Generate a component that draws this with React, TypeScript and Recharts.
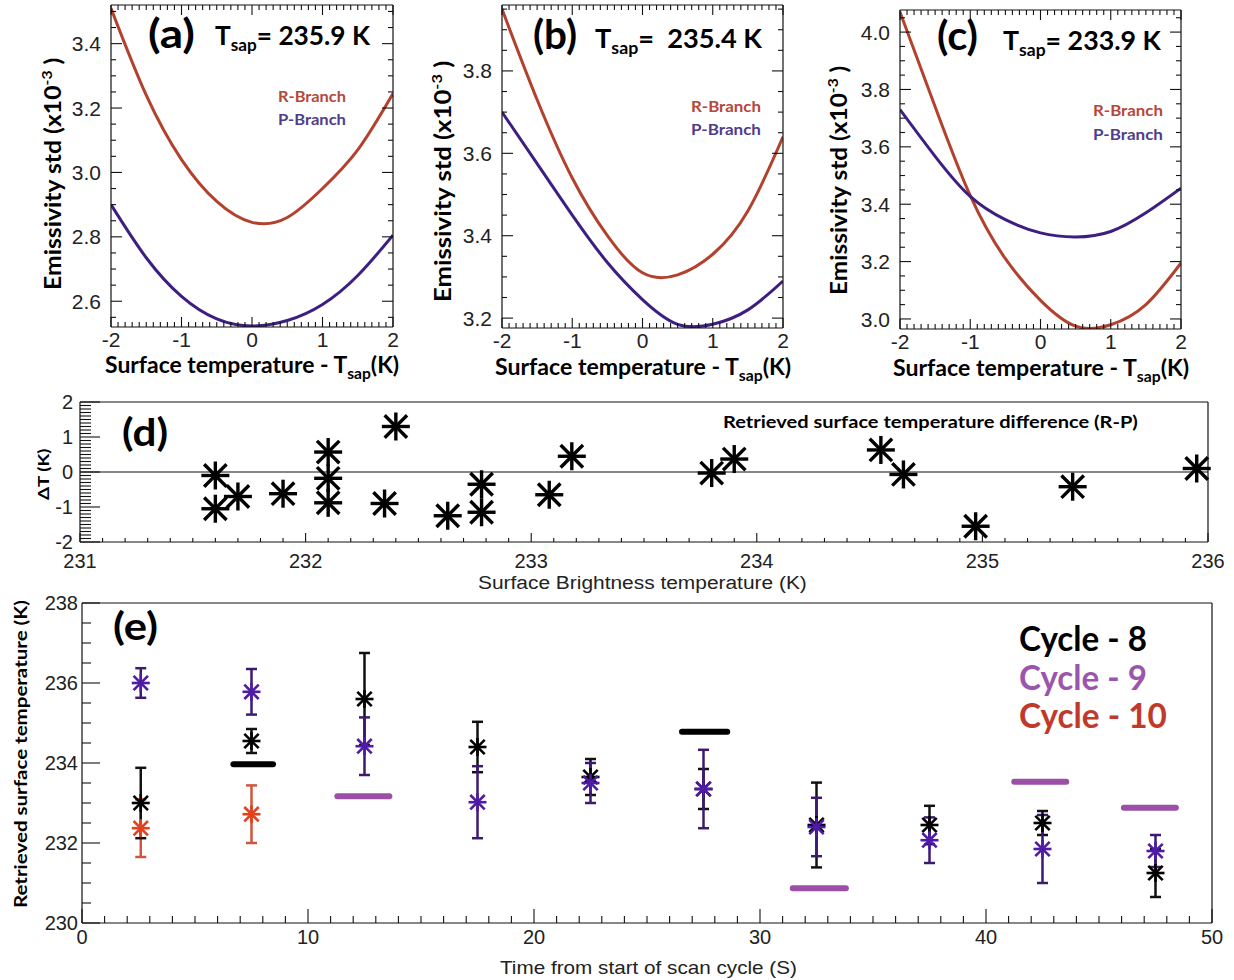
import React from "react";
import {
  ComposedChart,
  Line,
  Scatter,
  XAxis,
  YAxis,
  ErrorBar,
  ReferenceLine,
} from "recharts";

const TICK_FONT = "'Liberation Sans', Arial, sans-serif";
const NARROW_FONT = "'Liberation Sans Narrow', 'Liberation Sans', Arial, sans-serif";
const BOLD_FONT = "Lato, 'Open Sans', sans-serif";

// ---- panels (a)-(c): emissivity std vs (surface temperature - Tsap)
const offsets = [-2, -1.5, -1, -0.5, 0, 0.5, 1, 1.5, 2];
const rBranchA = [3.51, 3.24, 3.04, 2.91, 2.845, 2.86, 2.95, 3.07, 3.245];
const pBranchA = [2.9, 2.735, 2.615, 2.545, 2.523, 2.54, 2.59, 2.68, 2.805];
const rBranchB = [3.95, 3.73, 3.54, 3.4, 3.31, 3.305, 3.355, 3.46, 3.64];
const pBranchB = [3.7, 3.575, 3.45, 3.335, 3.245, 3.185, 3.185, 3.22, 3.29];
const rBranchC = [4.07, 3.74, 3.43, 3.21, 3.065, 2.975, 2.98, 3.05, 3.195];
const pBranchC = [3.73, 3.567, 3.427, 3.346, 3.3, 3.286, 3.305, 3.37, 3.456];

// ---- panel (d): retrieved surface temperature difference (R-P)
const brightnessT = [
  231.6, 231.6, 231.7, 231.9, 232.1, 232.1, 232.1, 232.35, 232.4, 232.63, 232.78,
  232.78, 233.08, 233.18, 233.8, 233.9, 234.55, 234.65, 234.97, 235.4, 235.95,
];
const deltaT = [
  -0.1, -1.05, -0.7, -0.62, 0.57, -0.18, -0.88, -0.9, 1.3, -1.25, -0.35, -1.15,
  -0.65, 0.45, -0.03, 0.37, 0.63, -0.07, -1.55, -0.42, 0.1,
];

// ---- panel (e): retrieved surface temperature per scan position
const scanTime = [2.6, 7.5, 12.5, 17.5, 22.5, 27.5, 32.5, 37.5, 42.5, 47.5];
const cycle8Temp = [233.0, 234.55, 235.6, 234.4, 233.65, 233.35, 232.45, 232.45, 232.5, 231.25];
const cycle8Err = [0.88, 0.3, 1.15, 0.63, 0.45, 0.5, 1.06, 0.48, 0.3, 0.6];
const cycle9Temp = [236.0, 235.78, 234.42, 233.02, 233.5, 233.35, 232.4, 232.07, 231.85, 231.8];
const cycle9Err = [0.37, 0.57, 0.72, 0.9, 0.5, 0.98, 0.73, 0.57, 0.85, 0.4];
const cycle10Time = [2.6, 7.5];
const cycle10Temp = [232.37, 232.72];
const cycle10Err = [0.72, 0.72];

// horizontal reference marks (Tsap of each cycle)
const markStart = [6.7, 11.3, 26.55, 31.45, 41.25, 46.1];
const markEnd = [8.45, 13.6, 28.55, 33.8, 43.55, 48.4];
const markTemp = [233.97, 233.17, 234.78, 230.87, 233.53, 232.88];
const markColor = ["#000000", "#9b4fa6", "#000000", "#9b4fa6", "#9b4fa6", "#9b4fa6"];

// ---------- helpers
function range(a: number, b: number, step: number) {
  const out: number[] = [];
  const i0 = Math.ceil(a / step - 1e-6);
  const i1 = Math.floor(b / step + 1e-6);
  for (let i = i0; i <= i1; i++) out.push(+(i * step).toFixed(4));
  return out;
}
const isMajor = (v: number, step: number) =>
  Math.abs(v / step - Math.round(v / step)) < 1e-6;

type TickOpts = {
  side: "left" | "right" | "top" | "bottom";
  margin: number;
  major: number;
  majorLen: number;
  minorLen: number;
  label?: boolean;
  fmt?: (v: number) => string;
  fontSize?: number;
  family?: string;
};

function makeTick(o: TickOpts) {
  return (props: any) => {
    const { x, y, payload } = props;
    const v = payload.value;
    const maj = isMajor(v, o.major);
    const len = maj ? o.majorLen : o.minorLen;
    let l = { x1: 0, y1: 0, x2: 0, y2: 0 };
    let t: any = null;
    if (o.side === "left") {
      l = { x1: x + o.margin, y1: y, x2: x + o.margin + len, y2: y };
      t = { x, y, dy: "0.36em", textAnchor: "end" };
    } else if (o.side === "right") {
      l = { x1: x - o.margin, y1: y, x2: x - o.margin - len, y2: y };
    } else if (o.side === "bottom") {
      l = { x1: x, y1: y - o.margin, x2: x, y2: y - o.margin - len };
      t = { x, y, dy: "0.72em", textAnchor: "middle" };
    } else {
      l = { x1: x, y1: y + o.margin, x2: x, y2: y + o.margin + len };
    }
    return (
      <g>
        <line {...l} stroke="#111" strokeWidth={1.1} />
        {o.label && maj && t && (
          <text
            {...t}
            fill="#222"
            fontSize={o.fontSize ?? 18}
            fontFamily={o.family ?? TICK_FONT}
          >
            {o.fmt ? o.fmt(v) : String(v)}
          </text>
        )}
      </g>
    );
  };
}

function Star({ cx, cy, r, color, w }: any) {
  if (cx == null || cy == null) return null;
  const d = r * 0.8;
  return (
    <g stroke={color} strokeWidth={w} fill="none">
      <line x1={cx - r} y1={cy} x2={cx + r} y2={cy} />
      <line x1={cx} y1={cy - r} x2={cx} y2={cy + r} />
      <line x1={cx - d} y1={cy - d} x2={cx + d} y2={cy + d} />
      <line x1={cx - d} y1={cy + d} x2={cx + d} y2={cy - d} />
    </g>
  );
}

let measureCtx: CanvasRenderingContext2D | null = null;
function measure(text: string, size: number, family: string, weight: string) {
  if (!measureCtx) measureCtx = document.createElement("canvas").getContext("2d");
  if (!measureCtx) return text.length * size * 0.5;
  measureCtx.font = `${weight} ${size}px ${family}`;
  return measureCtx.measureText(text).width;
}

type Part = { text: string; size?: number; shift?: number };

// text stretched/squeezed to the width it has in the figure
function FitText({
  x,
  y,
  width,
  size,
  parts,
  fill = "#000",
  weight = "bold",
  family = BOLD_FONT,
  rotate = 0,
}: {
  x: number;
  y: number;
  width?: number;
  size: number;
  parts: Part[];
  fill?: string;
  weight?: string;
  family?: string;
  rotate?: number;
}) {
  const natural = parts.reduce(
    (s, p) => s + measure(p.text, p.size ?? size, family, weight),
    0
  );
  const sx = width ? width / natural : 1;
  let prev = 0;
  return (
    <g transform={`translate(${x} ${y}) rotate(${rotate}) scale(${sx} 1)`}>
      <text
        x={0}
        y={0}
        fontFamily={family}
        fontWeight={weight}
        fontSize={size}
        fill={fill}
        style={{ whiteSpace: "pre" }}
      >
        {parts.map((p, i) => {
          const s = p.shift ?? 0;
          const dy = s - prev;
          prev = s;
          return (
            <tspan key={i} dy={dy} fontSize={p.size ?? size}>
              {p.text}
            </tspan>
          );
        })}
      </text>
    </g>
  );
}

type Box = { x: number; y: number; w: number; h: number };
type Plot = { l: number; t: number; r: number; b: number };

const axisLine = { stroke: "#111", strokeWidth: 1.2 };

function CurvePanel({
  box,
  plot,
  yDomain,
  rVals,
  pVals,
}: {
  box: Box;
  plot: Plot;
  yDomain: [number, number];
  rVals: number[];
  pVals: number[];
}) {
  const data = offsets.map((x, i) => ({ x, r: rVals[i], p: pVals[i] }));
  const xTicks = range(-2, 2, 0.1);
  const yTicks = range(yDomain[0], yDomain[1], 0.05);
  const common = {
    type: "number" as const,
    allowDataOverflow: true,
    interval: 0 as const,
    tickSize: 0,
    tickLine: false,
    axisLine,
  };
  return (
    <div style={{ position: "absolute", left: box.x, top: box.y }}>
      <ComposedChart
        width={box.w}
        height={box.h}
        data={data}
        margin={{ top: 0, right: 0, bottom: 0, left: 0 }}
      >
        <XAxis
          {...common}
          xAxisId="b"
          dataKey="x"
          domain={[-2, 2]}
          ticks={xTicks}
          orientation="bottom"
          height={box.y + box.h - plot.b}
          tickMargin={5}
          tick={makeTick({
            side: "bottom",
            margin: 5,
            major: 1,
            majorLen: 10,
            minorLen: 5,
            label: true,
            family: NARROW_FONT,
            fontSize: 21,
          })}
        />
        <XAxis
          {...common}
          xAxisId="t"
          dataKey="x"
          domain={[-2, 2]}
          ticks={xTicks}
          orientation="top"
          height={plot.t - box.y}
          tickMargin={2}
          tick={makeTick({ side: "top", margin: 2, major: 1, majorLen: 10, minorLen: 5 })}
        />
        <YAxis
          {...common}
          yAxisId="l"
          domain={yDomain}
          ticks={yTicks}
          width={plot.l - box.x}
          tickMargin={10}
          tick={makeTick({
            side: "left",
            margin: 10,
            major: 0.2,
            majorLen: 11,
            minorLen: 5,
            label: true,
            fmt: (v) => v.toFixed(1),
            family: NARROW_FONT,
            fontSize: 21,
          })}
        />
        <YAxis
          {...common}
          yAxisId="r"
          orientation="right"
          domain={yDomain}
          ticks={yTicks}
          width={box.x + box.w - plot.r}
          tickMargin={2}
          tick={makeTick({ side: "right", margin: 2, major: 0.2, majorLen: 11, minorLen: 5 })}
        />
        <Line
          xAxisId="b"
          yAxisId="l"
          type="natural"
          dataKey="r"
          stroke="#b2412e"
          strokeWidth={3}
          dot={false}
          isAnimationActive={false}
        />
        <Line
          xAxisId="b"
          yAxisId="l"
          type="natural"
          dataKey="p"
          stroke="#3d1f82"
          strokeWidth={3}
          dot={false}
          isAnimationActive={false}
        />
      </ComposedChart>
    </div>
  );
}

function DiffPanel() {
  const box = { x: 0, y: 390, w: 1234, h: 200 };
  const plot = { l: 80, t: 402, r: 1208, b: 542 };
  const data = brightnessT.map((x, i) => ({ x, y: deltaT[i] }));
  const xTicks = range(231, 236, 0.1);
  const yTicks = range(-2, 2, 0.1);
  const common = {
    type: "number" as const,
    interval: 0 as const,
    tickSize: 0,
    tickLine: false,
    axisLine,
  };
  return (
    <div style={{ position: "absolute", left: box.x, top: box.y }}>
      <ComposedChart
        width={box.w}
        height={box.h}
        margin={{ top: 0, right: 0, bottom: 0, left: 0 }}
      >
        <XAxis
          {...common}
          xAxisId="b"
          dataKey="x"
          domain={[231, 236]}
          ticks={xTicks}
          height={box.y + box.h - plot.b}
          tickMargin={12}
          tick={makeTick({
            side: "bottom",
            margin: 12,
            major: 1,
            majorLen: 9,
            minorLen: 4,
            label: true,
            fontSize: 20,
          })}
        />
        <XAxis
          {...common}
          xAxisId="t"
          dataKey="x"
          orientation="top"
          domain={[231, 236]}
          ticks={xTicks}
          height={plot.t - box.y}
          tickMargin={2}
          tick={makeTick({ side: "top", margin: 2, major: 1, majorLen: 9, minorLen: 4 })}
        />
        <YAxis
          {...common}
          yAxisId="l"
          domain={[-2, 2]}
          ticks={yTicks}
          width={plot.l - box.x}
          tickMargin={7}
          tick={makeTick({
            side: "left",
            margin: 7,
            major: 1,
            majorLen: 20,
            minorLen: 11,
            label: true,
            fontSize: 20,
          })}
        />
        <YAxis
          {...common}
          yAxisId="r"
          orientation="right"
          domain={[-2, 2]}
          ticks={yTicks}
          width={box.x + box.w - plot.r}
          tickMargin={2}
          tick={makeTick({ side: "right", margin: 2, major: 1, majorLen: 14, minorLen: 9 })}
        />
        <ReferenceLine xAxisId="b" yAxisId="l" y={0} stroke="#111" strokeWidth={1.2} />
        <Scatter
          xAxisId="b"
          yAxisId="l"
          data={data}
          dataKey="y"
          isAnimationActive={false}
          shape={(p: any) => <Star cx={p.cx} cy={p.cy} r={14} color="#000" w={3.4} />}
        />
      </ComposedChart>
    </div>
  );
}

function CyclePanel() {
  const box = { x: 0, y: 590, w: 1234, h: 390 };
  const plot = { l: 82, t: 603, r: 1212, b: 923 };
  const c8 = scanTime.map((t, i) => ({ t, temp: cycle8Temp[i], err: cycle8Err[i] }));
  const c9 = scanTime.map((t, i) => ({ t, temp: cycle9Temp[i], err: cycle9Err[i] }));
  const c10 = cycle10Time.map((t, i) => ({ t, temp: cycle10Temp[i], err: cycle10Err[i] }));
  const xTicks = range(0, 50, 1);
  const yTicks = range(230, 238, 0.5);
  const common = {
    type: "number" as const,
    interval: 0 as const,
    tickSize: 0,
    tickLine: false,
    axisLine,
  };
  return (
    <div style={{ position: "absolute", left: box.x, top: box.y }}>
      <ComposedChart
        width={box.w}
        height={box.h}
        margin={{ top: 0, right: 0, bottom: 0, left: 0 }}
      >
        <XAxis
          {...common}
          xAxisId="b"
          dataKey="t"
          domain={[0, 50]}
          ticks={xTicks}
          height={box.y + box.h - plot.b}
          tickMargin={7}
          tick={makeTick({
            side: "bottom",
            margin: 7,
            major: 10,
            majorLen: 14,
            minorLen: 7,
            label: true,
            fontSize: 20,
          })}
        />
        <XAxis
          {...common}
          xAxisId="t"
          dataKey="t"
          orientation="top"
          domain={[0, 50]}
          ticks={xTicks}
          height={plot.t - box.y}
          tickMargin={2}
          tick={makeTick({ side: "top", margin: 2, major: 10, majorLen: 14, minorLen: 7 })}
        />
        <YAxis
          {...common}
          yAxisId="l"
          domain={[230, 238]}
          ticks={yTicks}
          width={plot.l - box.x}
          tickMargin={4}
          tick={makeTick({
            side: "left",
            margin: 4,
            major: 2,
            majorLen: 18,
            minorLen: 9,
            label: true,
            fontSize: 20,
          })}
        />
        <YAxis
          {...common}
          yAxisId="r"
          orientation="right"
          domain={[230, 238]}
          ticks={yTicks}
          width={box.x + box.w - plot.r}
          tickMargin={2}
          tick={makeTick({ side: "right", margin: 2, major: 2, majorLen: 22, minorLen: 11 })}
        />
        {markTemp.map((y, i) => (
          <ReferenceLine
            key={i}
            xAxisId="b"
            yAxisId="l"
            segment={[
              { x: markStart[i], y },
              { x: markEnd[i], y },
            ]}
            stroke={markColor[i]}
            strokeWidth={6}
            strokeLinecap="round"
          />
        ))}
        <Scatter
          xAxisId="b"
          yAxisId="l"
          data={c10}
          dataKey="temp"
          isAnimationActive={false}
          shape={(p: any) => <Star cx={p.cx} cy={p.cy} r={9} color="#e2421e" w={2.6} />}
        >
          <ErrorBar dataKey="err" direction="y" width={5.5} stroke="#d0553f" strokeWidth={2.5} />
        </Scatter>
        <Scatter
          xAxisId="b"
          yAxisId="l"
          data={c8}
          dataKey="temp"
          isAnimationActive={false}
          shape={(p: any) => <Star cx={p.cx} cy={p.cy} r={9} color="#000" w={2.6} />}
        >
          <ErrorBar dataKey="err" direction="y" width={5.5} stroke="#111" strokeWidth={2.5} />
        </Scatter>
        <Scatter
          xAxisId="b"
          yAxisId="l"
          data={c9}
          dataKey="temp"
          isAnimationActive={false}
          shape={(p: any) => <Star cx={p.cx} cy={p.cy} r={9} color="#4f1ca6" w={2.6} />}
        >
          <ErrorBar dataKey="err" direction="y" width={5.5} stroke="#3d1a72" strokeWidth={2.5} />
        </Scatter>
      </ComposedChart>
    </div>
  );
}

const tsap = (v: string): Part[] => [
  { text: "T", size: 26 },
  { text: "sap", size: 17, shift: 6 },
  { text: v, size: 26, shift: 0 },
];
const xTitle: Part[] = [
  { text: "Surface temperature - T", size: 22 },
  { text: "sap", size: 15, shift: 6 },
  { text: "(K)", size: 22, shift: 0 },
];
const yTitle: Part[] = [
  { text: "Emissivity std (x10", size: 22 },
  { text: "-3", size: 14, shift: -9 },
  { text: " )", size: 22, shift: 0 },
];

function Annotations() {
  return (
    <svg
      width={1234}
      height={980}
      style={{ position: "absolute", left: 0, top: 0, pointerEvents: "none" }}
    >
      {/* (a) */}
      <FitText x={148} y={48} size={40} width={47} parts={[{ text: "(a)" }]} />
      <FitText x={215} y={45} size={26} width={155} parts={tsap("= 235.9 K")} />
      <FitText x={278} y={102} size={16} width={68} fill="#b5473a" parts={[{ text: "R-Branch" }]} />
      <FitText x={278} y={125} size={16} width={68} fill="#4f3d8c" parts={[{ text: "P-Branch" }]} />
      <FitText x={105} y={373} size={22} width={295} parts={xTitle} />
      <FitText x={61} y={290} size={22} width={233} rotate={-90} parts={yTitle} />

      {/* (b) */}
      <FitText x={533} y={49} size={40} width={44} parts={[{ text: "(b)" }]} />
      <FitText x={595} y={48} size={26} width={167} parts={tsap("=  235.4 K")} />
      <FitText x={691} y={112} size={16} width={70} fill="#b5473a" parts={[{ text: "R-Branch" }]} />
      <FitText x={691} y={135} size={16} width={70} fill="#4f3d8c" parts={[{ text: "P-Branch" }]} />
      <FitText x={495} y={375} size={22} width={297} parts={xTitle} />
      <FitText x={451} y={302} size={22} width={242} rotate={-90} parts={yTitle} />

      {/* (c) */}
      <FitText x={937} y={50} size={40} width={41} parts={[{ text: "(c)" }]} />
      <FitText x={1003} y={50} size={26} width={158} parts={tsap("= 233.9 K")} />
      <FitText x={1093} y={116} size={16} width={70} fill="#b5473a" parts={[{ text: "R-Branch" }]} />
      <FitText x={1093} y={140} size={16} width={70} fill="#4f3d8c" parts={[{ text: "P-Branch" }]} />
      <FitText x={893} y={376} size={22} width={297} parts={xTitle} />
      <FitText x={847} y={295} size={22} width={230} rotate={-90} parts={yTitle} />

      {/* (d) */}
      <FitText x={122} y={446} size={38} width={46} parts={[{ text: "(d)" }]} />
      <FitText
        x={723}
        y={428}
        size={17}
        width={415}
        parts={[{ text: "Retrieved surface temperature difference (R-P)" }]}
      />
      <FitText x={49} y={500} size={16} width={52} rotate={-90} parts={[{ text: "ΔT (K)" }]} />
      <FitText
        x={478}
        y={589}
        size={18}
        width={329}
        weight="normal"
        family={TICK_FONT}
        fill="#222"
        parts={[{ text: "Surface Brightness temperature (K)" }]}
      />

      {/* (e) */}
      <FitText x={113} y={640} size={38} width={45} parts={[{ text: "(e)" }]} />
      <FitText x={1019} y={651} size={35} width={128} parts={[{ text: "Cycle - 8" }]} />
      <FitText x={1019} y={690} size={35} width={128} fill="#9b55ad" parts={[{ text: "Cycle - 9" }]} />
      <FitText x={1019} y={728} size={35} width={148} fill="#c0392b" parts={[{ text: "Cycle - 10" }]} />
      <FitText
        x={27}
        y={908}
        size={17}
        width={308}
        rotate={-90}
        parts={[{ text: "Retrieved surface temperature (K)" }]}
      />
      <FitText
        x={500}
        y={974}
        size={19}
        width={297}
        weight="normal"
        family={TICK_FONT}
        fill="#222"
        parts={[{ text: "Time from start of scan cycle (S)" }]}
      />
    </svg>
  );
}

export default function App() {
  return (
    <div
      style={{
        position: "absolute",
        left: 0,
        top: 0,
        width: 1234,
        height: 980,
        background: "#fff",
        overflow: "hidden",
      }}
    >
      <CurvePanel
        box={{ x: 0, y: 0, w: 410, h: 390 }}
        plot={{ l: 111, t: 5, r: 393, b: 327 }}
        yDomain={[2.52, 3.52]}
        rVals={rBranchA}
        pVals={pBranchA}
      />
      <CurvePanel
        box={{ x: 410, y: 0, w: 400, h: 390 }}
        plot={{ l: 502, t: 5, r: 783, b: 328 }}
        yDomain={[3.176, 3.96]}
        rVals={rBranchB}
        pVals={pBranchB}
      />
      <CurvePanel
        box={{ x: 810, y: 0, w: 424, h: 390 }}
        plot={{ l: 900, t: 10, r: 1181, b: 329 }}
        yDomain={[2.965, 4.077]}
        rVals={rBranchC}
        pVals={pBranchC}
      />
      <DiffPanel />
      <CyclePanel />
      <Annotations />
    </div>
  );
}
